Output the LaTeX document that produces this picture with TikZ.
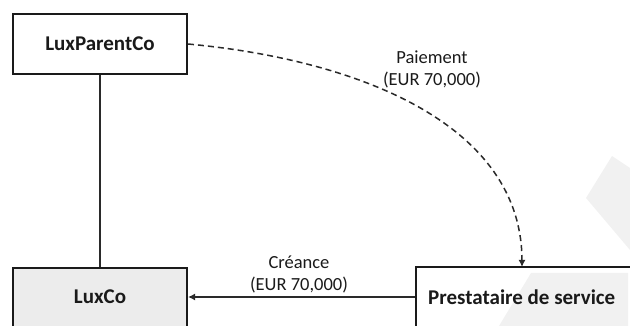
\documentclass[tikz,border=0pt]{standalone}
\usepackage{fontspec}
\setmainfont{Carlito}
\usetikzlibrary{arrows.meta}
\definecolor{boxline}{HTML}{1A1A1A}
\definecolor{lineclr}{HTML}{2A2A2A}
\definecolor{luxfill}{HTML}{ECECEC}
\definecolor{wmark}{HTML}{F1F1F1}
\tikzset{
  entity/.style={draw=boxline, line width=2pt, minimum width=174pt, minimum height=60pt,
    font=\fontsize{21}{24}\selectfont\bfseries, text=boxline, inner sep=0pt},
  boldlbl/.style={font=\fontsize{21}{24}\selectfont\bfseries, text=boxline, inner sep=0pt},
  flowlbl/.style={font=\fontsize{18.5}{22}\selectfont, text=boxline, align=center, inner sep=0pt},
  conn/.style={draw=lineclr, line width=1.5pt},
  tip/.style={-{Latex[length=7pt,width=7pt]}}
}
\begin{document}
\begin{tikzpicture}[x=1pt,y=-1pt]
\useasboundingbox (0,0) rectangle (630,326);
\clip (0,0) rectangle (630,326);
% faint watermark
\fill[wmark] (612,156) -- (630,168) -- (630,250) -- (586,198) -- cycle;
% nodes
\node[entity] (parent) at (100,44) {LuxParentCo};
\node[entity, fill=luxfill, minimum height=64pt, anchor=north] (luxco) at (100,267) {};
\node[boldlbl] (luxcolbl) at (100,297) {LuxCo};
\node[entity, anchor=west, minimum width=230pt, minimum height=64pt] (prest) at (415,299) {};
\fill[wmark] (531,273) -- (628,273) -- (628,326) -- (499,326) -- cycle;
\node[boldlbl, anchor=west] (prestlbl) at (428,297) {Prestataire de service};
% connectors
\draw[conn] (parent.south) -- (luxco.north);
\coordinate (hstart) at (prest.west |- luxcolbl);
\draw[conn, tip] (hstart) -- (luxco.east |- luxcolbl);
\coordinate (dtarget) at (522,267);
\draw[conn, dash pattern=on 6pt off 4pt, tip] (parent.east) .. controls (360,60) and (522,125) .. (dtarget);
% labels
\node[flowlbl] (paylbl) at (432,69) {Paiement\\(EUR 70,000)};
\node[flowlbl] (crelbl) at (299,274) {Créance\\(EUR 70,000)};
\end{tikzpicture}
\end{document}
